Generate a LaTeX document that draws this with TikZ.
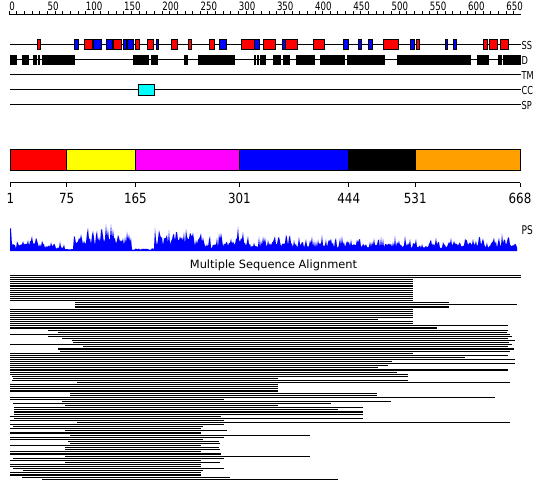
\documentclass[tikz,border=0pt]{standalone}
\usepackage{fontspec}
\setmainfont{DejaVu Sans}
\newfontfamily\narrowfont[FakeStretch=0.75]{DejaVu Sans}
\newfontfamily\axisfont[FakeStretch=0.85]{DejaVu Sans}
\usetikzlibrary{positioning}
\definecolor{ssred}{RGB}{255,0,0}
\definecolor{ssblue}{RGB}{0,0,255}
\definecolor{cccyan}{RGB}{0,255,255}
\definecolor{domorange}{RGB}{255,160,0}
\definecolor{domyellow}{RGB}{255,255,0}
\definecolor{dommagenta}{RGB}{255,0,255}
\definecolor{psblue}{RGB}{0,0,255}

\begin{document}
\pgfmathsetseed{4711}
\begin{tikzpicture}[
        x=1pt, y=-1pt,
        declare function={pos(\r)=10+(\r-1)*0.764618;
            pshump(\p,\c,\w)=max(0,1-abs((\p-\c)/\w));
            psbase(\p)=(\p<12)*16+(\p<65)*(5+8*pshump(\p,32,12))+(\p>=65)*(\p<74)*2+(\p>=74)*(\p<132)*12+(\p>=132)*(\p<155)*2.5+(\p>=155)*(\p<200)*11+(\p>=200)*(\p<245)*(6+9*pshump(\p,238,9))+(\p>=245)*6.5;
            psspike(\p)=(\p<65)*5+(\p>=74)*(\p<132)*15+(\p>=155)*(\p<245)*15+(\p>=245)*11;},
        trackline/.style={line width=1pt},
        helix/.style={draw=black, line width=1pt, fill=ssred},
        strand/.style={draw=black, line width=1pt, fill=ssblue},
        disorder/.style={fill=black},
        segbox/.style={draw=black, line width=1pt},
        msaline/.style={line width=1.05pt},
        rulerlabel/.style={anchor=south west, inner sep=0pt, font=\narrowfont\fontsize{11.5}{11.5}\selectfont},
        tracklabel/.style={anchor=west, inner sep=0pt, font=\narrowfont\fontsize{11}{11}\selectfont},
        axislabel/.style={anchor=center, inner sep=0pt, font=\axisfont\fontsize{14}{14}\selectfont}
    ]
        \useasboundingbox[fill=white] (0,0) rectangle (550,495);

        % ruler
        \draw[trackline] (9.2,15) -- (521,15);
        \foreach \r in {0,10,...,660}
            \draw[trackline] ({9.2+0.7646*\r},15) -- ({9.2+0.7646*\r},11.5);
        \foreach \r in {0,50,...,650}
            \node[rulerlabel] (ruler\r) at ({9.2+0.7646*\r},10.5) {\r};

        % tracks
        \foreach \y/\t in {45/SS, 60/D, 75/TM, 90/CC, 105/SP} {
            \draw[trackline] (10,\y) -- (521,\y);
            \node[tracklabel] (track\t) at (521.5,\y) {\t};
        }
        \foreach \a/\b in {42/75, 133/149, 151/158, 184/188, 198/235, 254/256, 257/259, 260/266, 273/281, 283/290, 296/315, 320/345, 347/385, 397/471, 477/489, 498/502, 503/521, 10/17, 22/29, 33/37, 38/39.5}
            \fill[disorder] (\a,55) rectangle (\b,65.5);
        \foreach \a/\b in {37/40, 84/92, 113/121, 135/139, 147/153, 171/177, 188/191, 209/214, 241/254, 263/275, 285/297, 313/324, 383/398, 416/419, 483/487, 489/497, 500/508}
            \draw[helix] (\a,40) rectangle (\b,50);
        \foreach \a/\b in {74/78, 93/101, 106/112, 123/126, 127/133, 156/158, 219/226, 254/259, 282/285, 343/348, 358/361, 368/372, 410/414, 445/447, 453/456}
            \draw[strand] (\a,40) rectangle (\b,50);
        \draw[segbox, fill=cccyan] (138,85) rectangle (154,96);

        % domains
        \foreach \a/\b/\c in {1/75/ssred, 75/165/domyellow, 165/301/dommagenta, 301/444/ssblue, 444/531/black, 531/668/domorange} {
            \draw[segbox, fill=\c] ({pos(\a)},150) rectangle ({pos(\b)},170.5);
            \draw[trackline] ({pos(\b)},183) -- ({pos(\b)},187.5);
            \node[axislabel] (axis\b) at ({pos(\b)},198) {\b};
        }
        \draw[trackline] (10,183) -- (520,183);
        \draw[trackline] (10,183) -- (10,187.5);
        \node[axislabel] (axis1) at (10.5,198) {1};

        % PS profile
        \fill[psblue] (10,251) foreach \x in {10,...,517} { -- (\x,{251-psbase(\x)*(0.45+0.65*rnd)-psspike(\x)*pow(rnd,3)}) } -- (517,251) -- cycle;
        \node[tracklabel, font=\narrowfont\fontsize{12}{12}\selectfont] (pslabel) at (521.5,230) {PS};

        % alignment
        \node[inner sep=0pt, font=\fontsize{11.4}{12}\selectfont] (msatitle) at (273.5,265.5) {Multiple Sequence Alignment};
        \foreach \k/\a/\b in {0/10/521, 1/10/521, 2/10/413, 3/10/413, 4/10/413, 5/10/413, 6/10/413, 7/10/413, 8/10/413, 9/10/413, 10/10/413, 11/10/413, 12/10/413,
                13/75/449, 14/75/517, 15/75/449, 16/10/413, 17/10/413, 18/10/413, 19/10/413, 20/10/413, 21/10/378, 22/10/413, 23/10/413,
                24/10/508, 25/10/437, 26/48/508, 27/58/507, 28/10/510, 29/48/512, 30/62/508, 31/72/515, 32/73/509, 33/10/512, 34/83/508,
                35/58/514, 36/60/510, 37/10/413, 38/10/508, 39/10/465, 40/10/515, 41/10/392, 42/10/515, 43/10/388, 44/10/378, 45/10/508,
                46/10/397, 47/10/408, 48/12/408, 49/13/278, 50/12/408, 51/77/510, 52/10/278, 53/10/278, 54/10/278, 55/10/278,
                56/70/377, 57/70/377, 58/10/495, 59/10/224, 60/62/391, 61/13/331, 62/65/278, 63/14/363, 64/14/338, 65/14/363,
                66/14/363, 67/10/221, 68/14/363, 69/10/224, 70/77/510, 71/10/224, 72/13/203, 73/10/201, 74/65/227, 75/10/201,
                76/70/310, 77/10/224, 78/10/203, 79/68/219, 80/70/220, 81/10/201, 82/65/219, 83/65/220, 84/10/201, 85/10/221,
                86/65/310, 87/13/224, 88/10/201, 89/65/220, 90/10/201, 91/10/201, 92/13/224, 93/23/203, 94/10/201, 95/10/201,
                96/22/230, 97/42/338}
            \draw[msaline] (\a,{275.5+2.1*\k}) -- (\b,{275.5+2.1*\k});
    \end{tikzpicture}
\end{document}
